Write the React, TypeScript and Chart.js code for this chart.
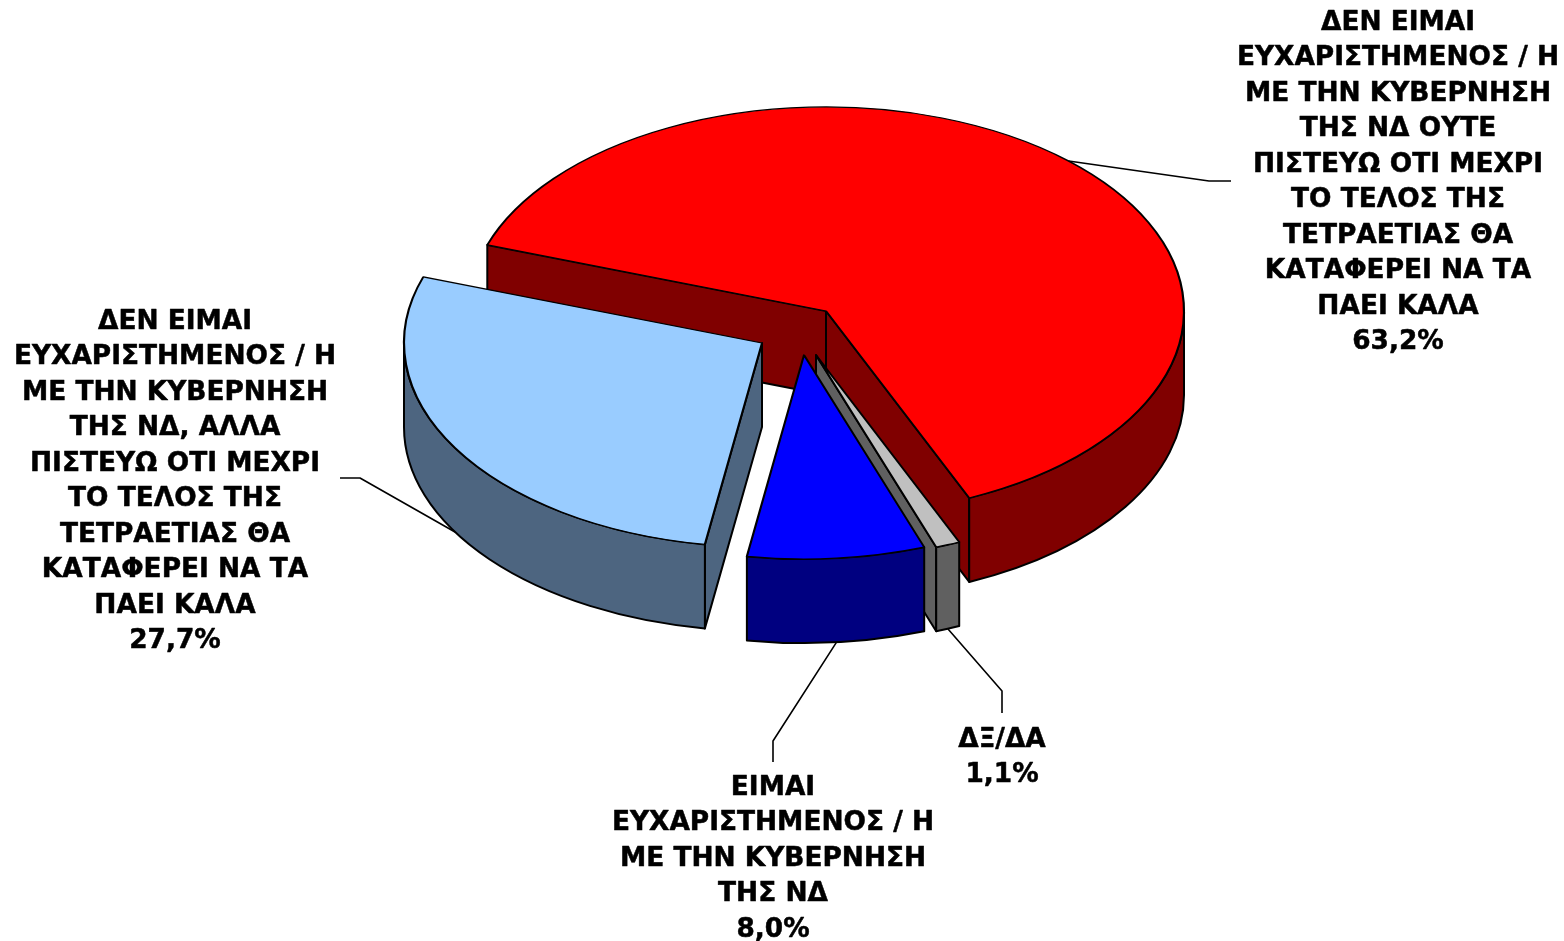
import React, { useEffect, useRef } from "react";
import { Chart, registerables } from "chart.js";

Chart.register(...registerables);

const categories = [
  "ΔΕΝ ΕΙΜΑΙ ΕΥΧΑΡΙΣΤΗΜΕΝΟΣ / Η ΜΕ ΤΗΝ ΚΥΒΕΡΝΗΣΗ ΤΗΣ ΝΔ ΟΥΤΕ ΠΙΣΤΕΥΩ ΟΤΙ ΜΕΧΡΙ ΤΟ ΤΕΛΟΣ ΤΗΣ ΤΕΤΡΑΕΤΙΑΣ ΘΑ ΚΑΤΑΦΕΡΕΙ ΝΑ ΤΑ ΠΑΕΙ ΚΑΛΑ",
  "ΔΞ/ΔΑ",
  "ΕΙΜΑΙ ΕΥΧΑΡΙΣΤΗΜΕΝΟΣ / Η ΜΕ ΤΗΝ ΚΥΒΕΡΝΗΣΗ ΤΗΣ ΝΔ",
  "ΔΕΝ ΕΙΜΑΙ ΕΥΧΑΡΙΣΤΗΜΕΝΟΣ / Η ΜΕ ΤΗΝ ΚΥΒΕΡΝΗΣΗ ΤΗΣ ΝΔ, ΑΛΛΑ ΠΙΣΤΕΥΩ ΟΤΙ ΜΕΧΡΙ ΤΟ ΤΕΛΟΣ ΤΗΣ ΤΕΤΡΑΕΤΙΑΣ ΘΑ ΚΑΤΑΦΕΡΕΙ ΝΑ ΤΑ ΠΑΕΙ ΚΑΛΑ",
];
const values = [63.2, 1.1, 8.0, 27.7];
const valueLabels = ["63,2%", "1,1%", "8,0%", "27,7%"];

const wrappedLabels = [
  ["ΔΕΝ ΕΙΜΑΙ", "ΕΥΧΑΡΙΣΤΗΜΕΝΟΣ / Η", "ΜΕ ΤΗΝ ΚΥΒΕΡΝΗΣΗ", "ΤΗΣ ΝΔ ΟΥΤΕ", "ΠΙΣΤΕΥΩ ΟΤΙ ΜΕΧΡΙ", "ΤΟ ΤΕΛΟΣ ΤΗΣ", "ΤΕΤΡΑΕΤΙΑΣ ΘΑ", "ΚΑΤΑΦΕΡΕΙ ΝΑ ΤΑ", "ΠΑΕΙ ΚΑΛΑ"],
  ["ΔΞ/ΔΑ"],
  ["ΕΙΜΑΙ", "ΕΥΧΑΡΙΣΤΗΜΕΝΟΣ / Η", "ΜΕ ΤΗΝ ΚΥΒΕΡΝΗΣΗ", "ΤΗΣ ΝΔ"],
  ["ΔΕΝ ΕΙΜΑΙ", "ΕΥΧΑΡΙΣΤΗΜΕΝΟΣ / Η", "ΜΕ ΤΗΝ ΚΥΒΕΡΝΗΣΗ", "ΤΗΣ ΝΔ, ΑΛΛΑ", "ΠΙΣΤΕΥΩ ΟΤΙ ΜΕΧΡΙ", "ΤΟ ΤΕΛΟΣ ΤΗΣ", "ΤΕΤΡΑΕΤΙΑΣ ΘΑ", "ΚΑΤΑΦΕΡΕΙ ΝΑ ΤΑ", "ΠΑΕΙ ΚΑΛΑ"],
];

const topColors = ["#ff0000", "#c0c0c0", "#0000ff", "#99ccff"];
const sideColors = ["#800000", "#606060", "#000080", "#4d6580"];

// presentation of the 3D exploded pie
const FLATTEN = 204 / 358;
const DEPTH = 84;
const explode = [
  [1, 0],
  [-9, 44],
  [-21, 44],
  [-63, 32],
];
// label blocks: text centre x, first line centre y, and leader elbow + leader end
const labelLayout = [
  { x: 1398, y: 23, elbow: [1209, 181], end: [1231, 181] },
  { x: 1002, y: 740, elbow: [1002, 691], end: [1002, 713] },
  { x: 773, y: 788, elbow: [773, 741], end: [773, 762] },
  { x: 175, y: 322, elbow: [360, 478], end: [340, 478] },
];
const LINE_HEIGHT = 35.5;
const FONT = 'bold 26.4px "DejaVu Sans"';

function wallPath(ctx: CanvasRenderingContext2D, pts: number[][], fill: string) {
  ctx.beginPath();
  pts.forEach((p, i) => (i ? ctx.lineTo(p[0], p[1]) : ctx.moveTo(p[0], p[1])));
  ctx.closePath();
  ctx.fillStyle = fill;
  ctx.fill();
  ctx.stroke();
}

const pie3d = {
  id: "pie3d",
  beforeDatasetDraw(chart: any, args: any) {
    const ctx: CanvasRenderingContext2D = chart.ctx;
    const arcs = args.meta.data;
    ctx.save();
    ctx.lineWidth = 2;
    ctx.strokeStyle = "#000";
    ctx.lineJoin = "round";
    arcs.forEach((arc: any, i: number) => {
      const R = arc.outerRadius;
      const ax = arc.x + explode[i][0];
      const ay = arc.y + explode[i][1];
      const s = arc.startAngle;
      const e = arc.endAngle;
      const rim = (t: number) => [ax + R * Math.cos(t), ay + R * FLATTEN * Math.sin(t)];
      const side = sideColors[i];
      // radial walls that face the viewer
      if (Math.cos(s) < 0) {
        const p = rim(s);
        wallPath(ctx, [[ax, ay], p, [p[0], p[1] + DEPTH], [ax, ay + DEPTH]], side);
      }
      if (Math.cos(e) > 0) {
        const p = rim(e);
        wallPath(ctx, [[ax, ay], p, [p[0], p[1] + DEPTH], [ax, ay + DEPTH]], side);
      }
      // curved outer wall, front half only
      for (let k = -1; k <= 1; k++) {
        const lo = Math.max(s, 2 * Math.PI * k);
        const hi = Math.min(e, 2 * Math.PI * k + Math.PI);
        if (hi <= lo) continue;
        ctx.beginPath();
        ctx.ellipse(ax, ay, R, R * FLATTEN, 0, lo, hi, false);
        ctx.ellipse(ax, ay + DEPTH, R, R * FLATTEN, 0, hi, lo, true);
        ctx.closePath();
        ctx.fillStyle = side;
        ctx.fill();
        ctx.stroke();
      }
      // top face: the library's own arc element, flattened
      ctx.save();
      ctx.translate(ax, ay);
      ctx.scale(1, FLATTEN);
      ctx.translate(-arc.x, -arc.y);
      arc.draw(ctx, chart.chartArea);
      ctx.restore();
    });

    // leader lines from each slice's mid-angle
    ctx.lineWidth = 1.6;
    arcs.forEach((arc: any, i: number) => {
      const mid = (arc.startAngle + arc.endAngle) / 2;
      const R = arc.outerRadius;
      const x = arc.x + explode[i][0] + R * Math.cos(mid);
      const y = arc.y + explode[i][1] + R * FLATTEN * Math.sin(mid) + (Math.sin(mid) > 0 ? DEPTH : 0);
      const l = labelLayout[i];
      ctx.beginPath();
      ctx.moveTo(x, y);
      ctx.lineTo(l.elbow[0], l.elbow[1]);
      ctx.lineTo(l.end[0], l.end[1]);
      ctx.stroke();
    });

    // labels
    ctx.font = FONT;
    ctx.fillStyle = "#000";
    ctx.textAlign = "center";
    ctx.textBaseline = "middle";
    ctx.lineWidth = 0.5;
    wrappedLabels.forEach((lines, i) => {
      const l = labelLayout[i];
      [...lines, valueLabels[i]].forEach((t, n) => {
        ctx.fillText(t, l.x, l.y + n * LINE_HEIGHT);
        ctx.strokeText(t, l.x, l.y + n * LINE_HEIGHT);
      });
    });
    ctx.restore();
    return false;
  },
};

export default function App() {
  const ref = useRef<HTMLCanvasElement>(null);
  useEffect(() => {
    document.body.style.margin = "0";
    document.body.style.background = "#fff";
    const chart = new Chart(ref.current!, {
      type: "pie",
      data: {
        labels: categories,
        datasets: [
          {
            data: values,
            backgroundColor: topColors,
            borderColor: "#000",
            borderWidth: 2.2,
            borderJoinStyle: "round",
          },
        ],
      },
      options: {
        animation: false,
        responsive: false,
        rotation: 288.9,
        radius: 358,
        layout: { padding: { left: 86, bottom: 319 } },
        plugins: { legend: { display: false }, tooltip: { enabled: false } },
      },
      plugins: [pie3d],
    } as any);
    return () => chart.destroy();
  }, []);
  return <canvas ref={ref} width={1564} height={941} style={{ display: "block" }} />;
}
